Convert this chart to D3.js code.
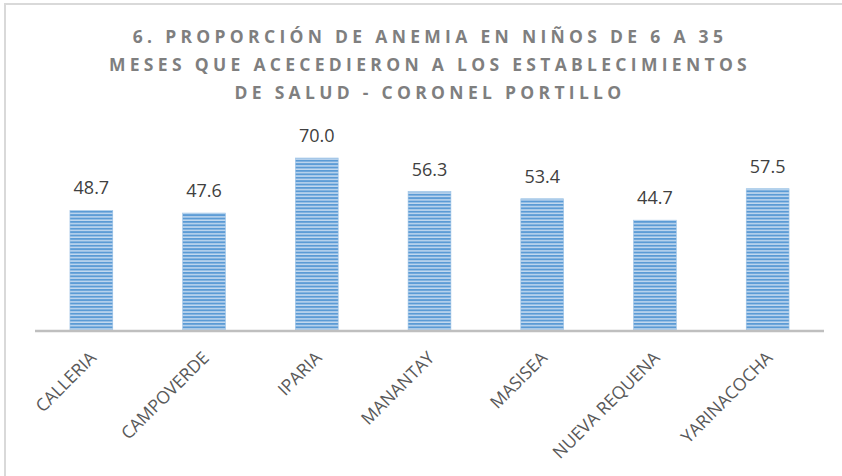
<!DOCTYPE html>
<html>
<head>
<meta charset="utf-8">
<script src="https://cdn.jsdelivr.net/npm/d3@7"></script>
<style>
  body { margin: 0; background: #fff; }
  svg { display: block; font-family: "Open Sans", sans-serif; }
</style>
</head>
<body>
<div id="chart"></div>
<script>
const titleLines = [
    "6. PROPORCIÓN DE ANEMIA EN NIÑOS DE 6 A 35",
    "MESES QUE ACECEDIERON A LOS ESTABLECIMIENTOS",
    "DE SALUD - CORONEL PORTILLO"
];
const categories = ["CALLERIA", "CAMPOVERDE", "IPARIA", "MANANTAY", "MASISEA", "NUEVA REQUENA", "YARINACOCHA"];
const values = [48.7, 47.6, 70.0, 56.3, 53.4, 44.7, 57.5];

const width = 842;
const height = 476;

const svg = d3.select("#chart")
    .append("svg")
    .attr("width", width)
    .attr("height", height);

svg.append("rect")
    .attr("width", width)
    .attr("height", height)
    .attr("fill", "#fff");

// chart frame (right / bottom edges fall outside the crop)
svg.append("rect")
    .attr("x", 5)
    .attr("y", 4)
    .attr("width", width + 20)
    .attr("height", height + 20)
    .attr("fill", "none")
    .attr("stroke", "#d9d9d9")
    .attr("stroke-width", 2);

// striped fill
const defs = svg.append("defs");
const pat = defs.append("pattern")
    .attr("id", "stripes")
    .attr("patternUnits", "userSpaceOnUse")
    .attr("width", 10)
    .attr("height", 3.4);
pat.append("rect")
    .attr("width", 10)
    .attr("height", 3.4)
    .attr("fill", "#c3d9f0");
pat.append("rect")
    .attr("width", 10)
    .attr("height", 1.9)
    .attr("fill", "#5b9bd5");

const x = d3.scaleBand()
    .domain(categories)
    .range([35, 824])
    .paddingInner(0.62)
    .paddingOuter(0.31);

const y = d3.scaleLinear()
    .domain([0, 70])
    .range([330, 158]);

// Title
svg.append("g")
    .selectAll("text")
    .data(titleLines)
    .enter()
    .append("text")
    .attr("x", 430)
    .attr("y", (d, i) => 43 + i * 28)
    .attr("text-anchor", "middle")
    .attr("fill", "#7f7f7f")
    .style("font-size", "17.5px")
    .style("font-weight", "bold")
    .style("letter-spacing", "4.3px")
    .text(d => d);

// Bars
svg.append("g")
    .selectAll("rect")
    .data(values)
    .enter()
    .append("rect")
    .attr("x", (d, i) => x(categories[i]))
    .attr("y", d => y(d))
    .attr("width", x.bandwidth())
    .attr("height", d => y(0) - y(d))
    .attr("fill", "url(#stripes)")
    .attr("stroke", "#9dc3e6")
    .attr("stroke-width", 0.6);

// Axis line
svg.append("line")
    .attr("x1", 35)
    .attr("x2", 824)
    .attr("y1", 331)
    .attr("y2", 331)
    .attr("stroke", "#bfbfbf")
    .attr("stroke-width", 2.5);

// Value labels
svg.append("g")
    .selectAll("text")
    .data(values)
    .enter()
    .append("text")
    .attr("x", (d, i) => x(categories[i]) + x.bandwidth() / 2)
    .attr("y", d => y(d) - 16)
    .attr("text-anchor", "middle")
    .attr("fill", "#404040")
    .style("font-size", "18px")
    .text(d => d.toFixed(1));

// Category labels
svg.append("g")
    .selectAll("text")
    .data(categories)
    .enter()
    .append("text")
    .attr("transform", d => `translate(${x(d) + x.bandwidth() / 2 + 6}, 359) rotate(-45)`)
    .attr("text-anchor", "end")
    .attr("fill", "#595959")
    .style("font-size", "17.5px")
    .text(d => d);
</script>
</body>
</html>
